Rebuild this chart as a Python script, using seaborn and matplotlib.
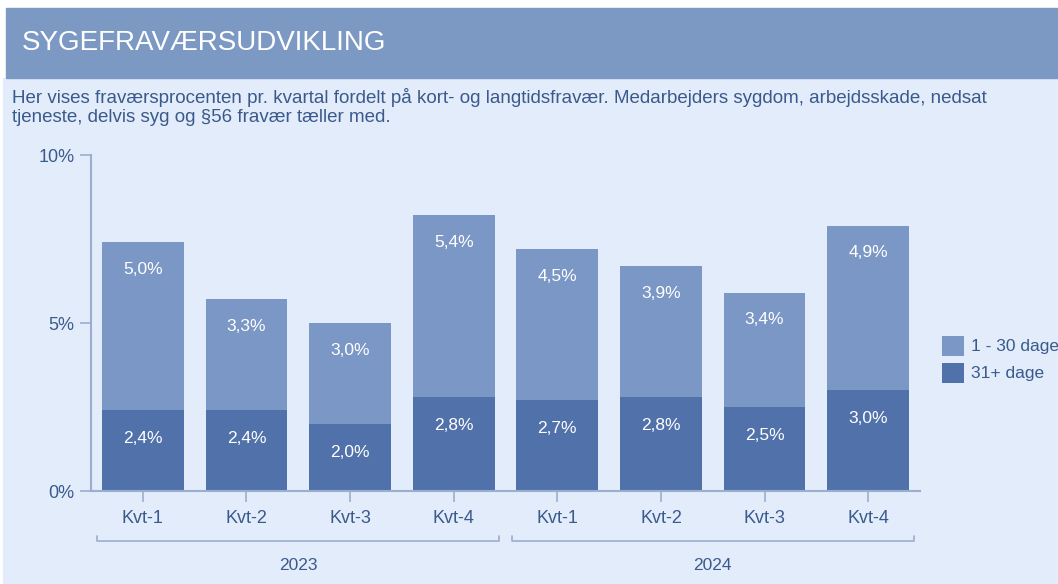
import seaborn as sns
import matplotlib.pyplot as plt
import pandas as pd
from matplotlib.patches import Rectangle
import matplotlib.transforms as mtransforms

years = ['2023', '2024']
quarters = ['Kvt-1', 'Kvt-2', 'Kvt-3', 'Kvt-4']
short_term = [5.0, 3.3, 3.0, 5.4, 4.5, 3.9, 3.4, 4.9]   # 1 - 30 dage
long_term = [2.4, 2.4, 2.0, 2.8, 2.7, 2.8, 2.5, 3.0]    # 31+ dage

light = '#7b97c6'
dark = '#5071aa'
txt = '#3a5a8c'
axis_col = '#9aaed0'
bg = '#e3ecfa'

df = pd.DataFrame({
    'period': [f'{y} {q}' for y in years for q in quarters],
    'short': short_term,
    'long': long_term,
})
df['total'] = df['short'] + df['long']

sns.set_style('white')
plt.rcParams['font.family'] = ['Liberation Sans', 'DejaVu Sans']

fig = plt.figure(figsize=(10.58, 5.84), dpi=100, facecolor='white')
W, H = 1058, 584
# background + title bar
fig.patches.append(Rectangle((3 / W, 0), 1, 1 - 78 / H, transform=fig.transFigure,
                             color=bg, zorder=-2))
fig.patches.append(Rectangle((6 / W, 1 - 78 / H), 1, 70 / H, transform=fig.transFigure,
                             color='#7c99c4', zorder=-1))
fig.text(22 / W, 1 - 43 / H, 'SYGEFRAVÆRSUDVIKLING', color='white', fontsize=20,
         va='center', ha='left')
fig.text(12 / W, 1 - 88 / H,
         'Her vises fraværsprocenten pr. kvartal fordelt på kort- og langtidsfravær. '
         'Medarbejders sygdom, arbejdsskade, nedsat\ntjeneste, delvis syg og §56 fravær tæller med.',
         color=txt, fontsize=13.5, va='top', ha='left', linespacing=1.15)

ax = fig.add_axes([91 / W, 1 - 491 / H, 829 / W, 336 / H])
ax.set_facecolor('none')

sns.barplot(data=df, x='period', y='total', color=light, width=0.79, ax=ax,
            label='1 - 30 dage', saturation=1, linewidth=0)
sns.barplot(data=df, x='period', y='long', color=dark, width=0.79, ax=ax,
            label='31+ dage', saturation=1, linewidth=0)
if ax.get_legend() is not None:
    ax.get_legend().remove()

fmt = lambda v: f'{v:.1f}%'.replace('.', ',')
ax.bar_label(ax.containers[0], labels=[fmt(v) for v in df['short']], padding=-25,
             color='white', fontsize=12.5)
ax.bar_label(ax.containers[1], labels=[fmt(v) for v in df['long']], padding=-26,
             color='white', fontsize=12.5)

ax.set_ylim(0, 10)
ax.set_xlim(-0.5, 7.5)
ax.set_yticks([0, 5, 10])
ax.set_yticklabels(['0%', '5%', '10%'])
ax.set_xticks(range(8))
ax.set_xticklabels(quarters * 2)
ax.set_xlabel('')
ax.set_ylabel('')
for s in ['top', 'right']:
    ax.spines[s].set_visible(False)
for s in ['left', 'bottom']:
    ax.spines[s].set_color(axis_col)
    ax.spines[s].set_linewidth(1.5)
ax.tick_params(axis='both', colors=axis_col, labelcolor=txt, labelsize=13,
               length=8, width=1.2, direction='out', pad=4, bottom=True, left=True)
ax.tick_params(axis='x', pad=6)

# year brackets
trans = mtransforms.blended_transform_factory(ax.transData, ax.transAxes)
for i, y in enumerate(years):
    x0, x1 = i * 4 - 0.44, i * 4 + 3.44
    yb = -0.149
    ax.plot([x0, x0, x1, x1], [yb + 0.015, yb, yb, yb + 0.015], color=axis_col,
            lw=1.2, transform=trans, clip_on=False)
    ax.text((x0 + x1) / 2, -0.2, y, transform=trans, ha='center', va='top',
            color=txt, fontsize=12.5)

handles, labels = ax.get_legend_handles_labels()
fig.legend(handles, labels, loc='upper left', bbox_to_anchor=(926 / W, 1 - 320 / H),
           frameon=False, fontsize=12.5, labelcolor=txt, handlelength=1.3,
           handleheight=1.4, handletextpad=0.4, labelspacing=0.4)

fig.savefig('out.png', dpi=100, facecolor=fig.get_facecolor())
